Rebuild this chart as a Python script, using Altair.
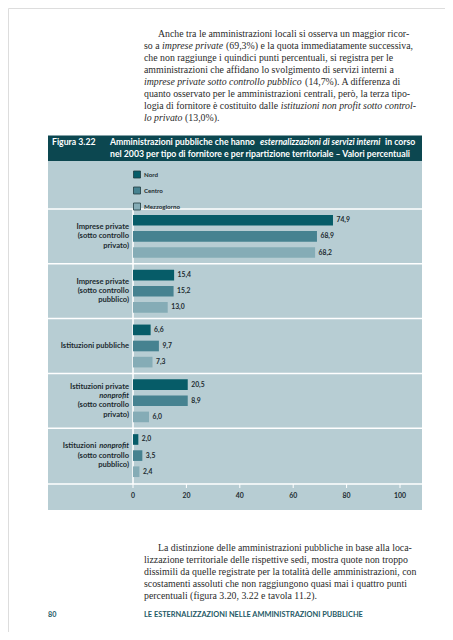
import altair as alt
import pandas as pd

# ---------------- data ----------------
categories = [
    "Imprese private (sotto controllo privato)",
    "Imprese private (sotto controllo pubblico)",
    "Istituzioni pubbliche",
    "Istituzioni private nonprofit (sotto controllo privato)",
    "Istituzioni nonprofit (sotto controllo pubblico)",
]
regions = ["Nord", "Centro", "Mezzogiorno"]
nord_values = [74.9, 15.4, 6.6, 20.5, 2.0]
centro_values = [68.9, 15.2, 9.7, 8.9, 3.5]
mezzogiorno_values = [68.2, 13.0, 7.3, 6.0, 2.4]
# bar lengths as drawn in the picture (the Centro "8,9" bar is drawn as long as 20,5)
centro_drawn = [68.9, 15.2, 9.7, 20.5, 3.5]
ticks = [0, 20, 40, 60, 80, 100]

region_colors = ["#065c68", "#468290", "#85acb6"]

rows = []
for i, c in enumerate(categories):
    for r, printed, drawn in [
        ("Nord", nord_values[i], nord_values[i]),
        ("Centro", centro_values[i], centro_drawn[i]),
        ("Mezzogiorno", mezzogiorno_values[i], mezzogiorno_values[i]),
    ]:
        rows.append({"fornitore": c, "region": r, "length": drawn,
                     "label": f"{printed:.1f}".replace(".", ",")})
df = pd.DataFrame(rows)

SERIF = "Liberation Serif"
SANS = "Lato"
BODY = "#2a2a2a"
DARK = "#1c2b30"
TEAL = "#0c4750"
PANEL = "#b7cdd3"
OFF = 8  # page margin

# Times (Liberation Serif) advance widths, 1/1000 em
_TR = {' ': 250, '%': 833, '(': 333, ')': 333, ',': 250, '-': 333, '.': 250, ':': 278,
       'A': 722, 'L': 611, 'I': 333, 'F': 556, 'V': 722,
       'a': 444, 'b': 500, 'c': 444, 'd': 500, 'e': 444, 'f': 333, 'g': 500, 'h': 500, 'i': 278,
       'j': 278, 'k': 500, 'l': 278, 'm': 778, 'n': 500, 'o': 500, 'p': 500, 'q': 500, 'r': 333,
       's': 389, 't': 278, 'u': 500, 'v': 500, 'w': 722, 'x': 500, 'y': 500, 'z': 444,
       'à': 444, 'è': 444, 'ò': 500, 'ù': 500, 'ì': 278}
_TI = dict(_TR)
_TI.update({'a': 500, 'f': 278, 'k': 444, 'm': 722, 'r': 389, 'v': 444, 'w': 667, 'x': 444,
            'y': 444, 'z': 389})


def em(s, italic=False):
    t = _TI if italic else _TR
    return sum(t.get(ch, 500) for ch in s) / 1000.0


xs = alt.Scale(domain=[0, 100], range=[133 - OFF, 400 - OFF])
ys = alt.Scale(domain=categories, range=[209 - OFF, 483 - OFF], paddingInner=0, paddingOuter=0)


def txt(s, x, y, size, weight="normal", style="normal", font=SERIF, color=BODY, align="left"):
    return alt.Chart(pd.DataFrame({"t": [s]})).mark_text(
        align=align, baseline="middle", font=font, fontSize=size,
        fontWeight=weight, fontStyle=style, color=color
    ).encode(x=alt.value(x - OFF), y=alt.value(y - OFF), text="t:N")


def box(x1, x2, y1, y2, color):
    return alt.Chart(pd.DataFrame({"a": [0]})).mark_rect(color=color).encode(
        x=alt.value(x1 - OFF), x2=alt.value(x2 - OFF),
        y=alt.value(y1 - OFF), y2=alt.value(y2 - OFF))


layers = []

# ---------------- paragraphs ----------------
LEFT, RIGHT, INDENT = 144, 417, 158
top_lines = [
    (INDENT, [("Anche tra le amministrazioni locali si osserva un maggior ricor-", False)]),
    (LEFT, [("so a", False), ("imprese private", True),
            ("(69,3%) e la quota immediatamente successiva,", False)]),
    (LEFT, [("che non raggiunge i quindici punti percentuali, si registra per le", False)]),
    (LEFT, [("amministrazioni che affidano lo svolgimento di servizi interni a", False)]),
    (LEFT, [("imprese private sotto controllo pubblico", True), ("(14,7%). A differenza di", False)]),
    (LEFT, [("quanto osservato per le amministrazioni centrali, però, la terza tipo-", False)]),
    (LEFT, [("logia di fornitore è costituito dalle", False),
            ("istituzioni non profit sotto control-", True)]),
    (LEFT, [("lo privato", True), ("(13,0%).", False)]),
]
bottom_lines = [
    (INDENT, [("La distinzione delle amministrazioni pubbliche in base alla loca-", False)]),
    (LEFT, [("lizzazione territoriale delle rispettive sedi, mostra quote non troppo", False)]),
    (LEFT, [("dissimili da quelle registrate per la totalità delle amministrazioni, con", False)]),
    (LEFT, [("scostamenti assoluti che non raggiungono quasi mai i quattro punti", False)]),
    (LEFT, [("percentuali (figura 3.20, 3.22 e tavola 11.2).", False)]),
]


def line_em(segs):
    return sum(em(s, it) for s, it in segs) + em(" ") * (len(segs) - 1)


full = [(x0, segs) for x0, segs in top_lines[:-1] + bottom_lines[:-1]]
P_SIZE = min([10.1] + [(RIGHT - x0) / line_em(segs) for x0, segs in full])


def para(lines, y0, step):
    for i, (x0, segs) in enumerate(lines):
        x = x0
        for s, it in segs:
            layers.append(txt(s, x, y0 + step * i, P_SIZE, style="italic" if it else "normal"))
            x += (em(s, it) + em(" ")) * P_SIZE


para(top_lines, 34, 12)

# ---------------- figure header & panel ----------------
layers.append(box(48, 422, 135.5, 161, TEAL))
layers.append(box(48, 422, 161, 510, PANEL))
H_SIZE = 8.7
layers.append(txt("Figura 3.22", 52, 142, H_SIZE, weight="bold", font=SANS, color="white"))
layers.append(txt("Amministrazioni pubbliche che hanno", 110, 142, H_SIZE, weight="bold", font=SANS, color="white"))
layers.append(txt("esternalizzazioni di servizi interni", 260, 142, H_SIZE, weight="bold", style="italic", font=SANS, color="white"))
layers.append(txt("in corso", 385, 142, H_SIZE, weight="bold", font=SANS, color="white"))
layers.append(txt("nel 2003 per tipo di fornitore e per ripartizione territoriale – Valori percentuali",
                  110, 153.5, H_SIZE, weight="bold", font=SANS, color="white"))

# ---------------- separators, zero line, ticks ----------------
cat_df = pd.DataFrame({"fornitore": categories})
layers.append(alt.Chart(cat_df).mark_rule(color="white", strokeWidth=1.5).encode(
    y=alt.Y("fornitore:N", bandPosition=0, scale=ys, sort=categories, axis=None),
    x=alt.value(48 - OFF), x2=alt.value(422 - OFF)))
layers.append(alt.Chart(pd.DataFrame({"a": [0]})).mark_rule(color="white", strokeWidth=1.5).encode(
    y=alt.value(484 - OFF), x=alt.value(48 - OFF), x2=alt.value(422 - OFF)))
layers.append(alt.Chart(pd.DataFrame({"v": [0]})).mark_rule(color="white", strokeWidth=1.5).encode(
    x=alt.X("v:Q", scale=xs, axis=None), y=alt.value(209 - OFF), y2=alt.value(484 - OFF)))
tick_df = pd.DataFrame({"tick": ticks})
layers.append(alt.Chart(tick_df).mark_rule(color="white", strokeWidth=1).encode(
    x=alt.X("tick:Q", scale=xs, axis=None), y=alt.value(484 - OFF), y2=alt.value(488 - OFF)))
layers.append(alt.Chart(tick_df).mark_text(font=SANS, fontSize=6.9, fontWeight="bold", color=DARK,
                                           baseline="middle").encode(
    x=alt.X("tick:Q", scale=xs, axis=None), y=alt.value(496 - OFF), text="tick:Q"))

# ---------------- bars ----------------
yoff = alt.YOffset("region:N", sort=regions, scale=alt.Scale(paddingInner=0.34, paddingOuter=0.37))
bars = alt.Chart(df).mark_bar().encode(
    x=alt.X("length:Q", scale=xs, axis=None),
    y=alt.Y("fornitore:N", scale=ys, sort=categories, axis=None),
    yOffset=yoff,
    color=alt.Color("region:N", sort=regions,
                    scale=alt.Scale(domain=regions, range=region_colors),
                    legend=alt.Legend(title=None, orient="none", legendX=133 - OFF, legendY=170.5 - OFF,
                                      padding=0, symbolType="square", symbolSize=49,
                                      symbolStrokeColor="#1f3b40", symbolStrokeWidth=0.8,
                                      labelFont=SANS, labelFontSize=6.2, labelFontWeight="bold",
                                      labelColor=DARK, rowPadding=4, labelOffset=3)),
)
layers.append(bars)
values = alt.Chart(df).mark_text(align="left", baseline="middle", dx=3.5, font=SANS, fontSize=6.8,
                                 fontWeight="bold", color=DARK).encode(
    x=alt.X("length:Q", scale=xs, axis=None),
    y=alt.Y("fornitore:N", scale=ys, sort=categories, axis=None),
    yOffset=yoff,
    text="label:N",
)
layers.append(values)

# ---------------- category labels ----------------
L_SIZE = 7.6
LS = 9.2
LX = 129
label_lines = [
    (0, [("Imprese private", -1), ("(sotto controllo", 0), ("privato)", 1)]),
    (1, [("Imprese private", -1), ("(sotto controllo", 0), ("pubblico)", 1)]),
    (2, [("Istituzioni pubbliche", 0)]),
    (3, [("Istituzioni private", -1.5), ("(sotto controllo", 0.5), ("privato)", 1.5)]),
    (4, [("(sotto controllo", 0), ("pubblico)", 1)]),
]
band = (483 - 209) / len(categories)
for gi, lines in label_lines:
    cy = 209 + band * (gi + 0.5)
    for s, k in lines:
        layers.append(txt(s, LX, cy + LS * k, L_SIZE, weight="bold", font=SANS, color=DARK, align="right"))
cy3 = 209 + band * 3.5
layers.append(txt("nonprofit", LX, cy3 - 0.5 * LS, L_SIZE, weight="bold", style="italic", font=SANS, color=DARK, align="right"))
cy4 = 209 + band * 4.5
layers.append(txt("nonprofit", LX, cy4 - LS, L_SIZE, weight="bold", style="italic", font=SANS, color=DARK, align="right"))
layers.append(txt("Istituzioni", LX - 4.3 * L_SIZE, cy4 - LS, L_SIZE, weight="bold", font=SANS, color=DARK, align="right"))

# ---------------- bottom paragraph ----------------
para(bottom_lines, 548, 12)

# ---------------- footer ----------------
layers.append(txt("80", 48, 615, 7.2, weight="bold", font=SANS, color="#1e5a66"))
layers.append(txt("LE ESTERNALIZZAZIONI NELLE AMMINISTRAZIONI PUBBLICHE", 144, 615, 7.4,
                  weight="bold", font=SANS, color="#1e5a66"))

chart = alt.layer(*layers).properties(
    width=437, height=624, autosize=alt.AutoSizeParams(type="none"), padding=0
).configure_view(stroke=None).configure(background="white")

chart.save("out.html", embed_options={"renderer": "svg", "actions": False})
